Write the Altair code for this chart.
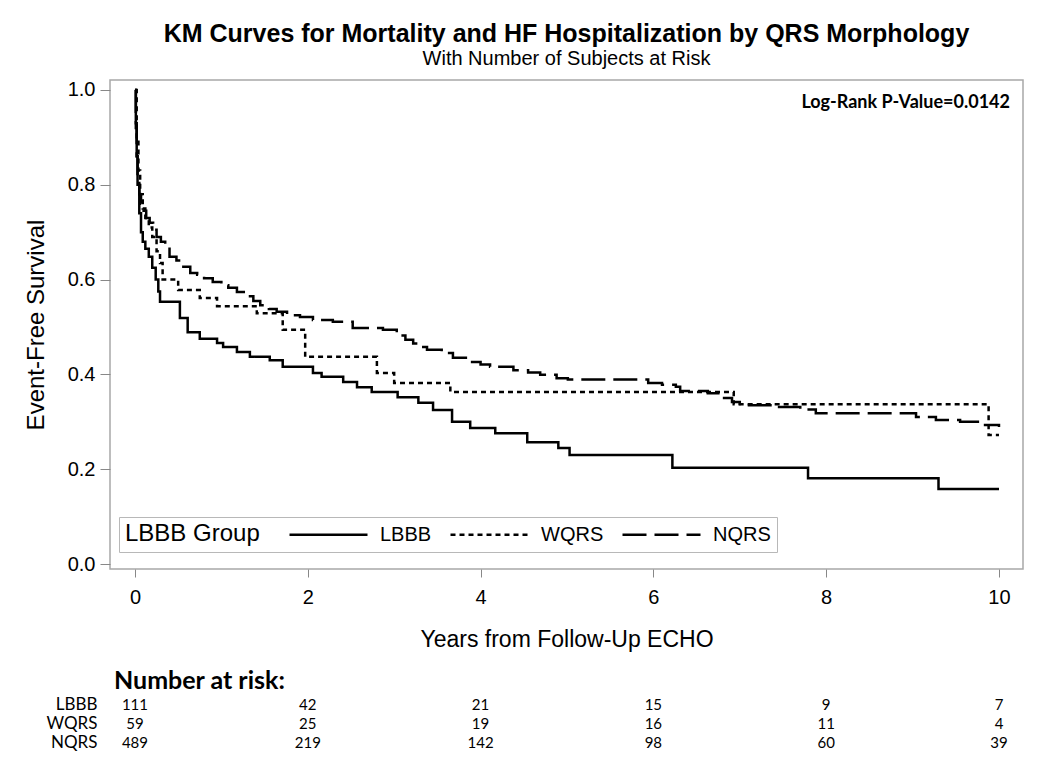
import altair as alt
import pandas as pd

groups = ["LBBB", "WQRS", "NQRS"]

# Kaplan-Meier step points (time in years, event-free survival)
lbbb_t = [0, 0.01, 0.02, 0.03, 0.05, 0.07, 0.09, 0.12, 0.16, 0.20,
          0.24, 0.27, 0.29, 0.52, 0.61, 0.75, 0.95, 1.02, 1.18, 1.33,
          1.56, 1.71, 2.06, 2.16, 2.41, 2.57, 2.74, 3.04, 3.28, 3.45,
          3.67, 3.88, 4.17, 4.54, 4.90, 5.03, 6.22, 7.79, 9.30, 10.0]
lbbb_s = [1.0, 0.93, 0.86, 0.80, 0.74, 0.70, 0.68, 0.665, 0.648, 0.625,
          0.60, 0.575, 0.553, 0.519, 0.489, 0.475, 0.466, 0.458, 0.447, 0.437,
          0.43, 0.416, 0.403, 0.395, 0.384, 0.373, 0.363, 0.352, 0.340, 0.325,
          0.300, 0.287, 0.276, 0.257, 0.245, 0.230, 0.203, 0.181, 0.158, 0.158]

wqrs_t = [0, 0.02, 0.04, 0.06, 0.09, 0.12, 0.16, 0.20, 0.25, 0.29,
          0.32, 0.50, 0.75, 0.95, 1.41, 1.71, 1.97, 2.80, 3.00, 3.65,
          6.93, 9.88, 10.0]
wqrs_s = [1.0, 0.90, 0.83, 0.78, 0.75, 0.73, 0.71, 0.69, 0.66, 0.635,
          0.60, 0.578, 0.561, 0.544, 0.529, 0.494, 0.437, 0.403, 0.382, 0.363,
          0.337, 0.272, 0.272]

nqrs_t = [0, 0.01, 0.02, 0.03, 0.05, 0.07, 0.10, 0.13, 0.17, 0.21,
          0.25, 0.30, 0.35, 0.40, 0.48, 0.56, 0.64, 0.72, 0.80, 0.90,
          1.00, 1.08, 1.18, 1.28, 1.37, 1.45, 1.55, 1.64, 1.76, 1.91,
          2.06, 2.29, 2.52, 2.87, 3.03, 3.13, 3.22, 3.30, 3.38, 3.55,
          3.68, 3.88, 4.00, 4.11, 4.38, 4.55, 4.69, 4.88, 5.01, 5.94,
          6.10, 6.26, 6.31, 6.63, 6.80, 6.91, 7.00, 7.42, 7.70, 7.88,
          9.04, 9.27, 9.55, 9.78, 10.0]
nqrs_s = [1.0, 0.92, 0.86, 0.81, 0.78, 0.76, 0.745, 0.73, 0.72, 0.705,
          0.69, 0.68, 0.669, 0.648, 0.64, 0.627, 0.614, 0.61, 0.603, 0.595,
          0.588, 0.583, 0.574, 0.565, 0.555, 0.546, 0.538, 0.532, 0.525, 0.521,
          0.515, 0.511, 0.498, 0.494, 0.482, 0.473, 0.465, 0.458, 0.452, 0.445,
          0.435, 0.426, 0.421, 0.416, 0.409, 0.404, 0.399, 0.392, 0.389, 0.382,
          0.378, 0.374, 0.365, 0.36, 0.35, 0.342, 0.335, 0.331, 0.326, 0.318,
          0.31, 0.304, 0.30, 0.293, 0.289]

risk_times = [0, 2, 4, 6, 8, 10]
risk_lbbb = [111, 42, 21, 15, 9, 7]
risk_wqrs = [59, 25, 19, 16, 11, 4]
risk_nqrs = [489, 219, 142, 98, 60, 39]

x_ticks = [0, 2, 4, 6, 8, 10]
y_ticks = [0.0, 0.2, 0.4, 0.6, 0.8, 1.0]

pvalue_text = "Log-Rank P-Value=0.0142"

curves = pd.concat([
    pd.DataFrame({"t": lbbb_t, "S": lbbb_s, "group": "LBBB"}),
    pd.DataFrame({"t": wqrs_t, "S": wqrs_s, "group": "WQRS"}),
    pd.DataFrame({"t": nqrs_t, "S": nqrs_s, "group": "NQRS"}),
], ignore_index=True)

risk = pd.concat([
    pd.DataFrame({"t": risk_times, "n": risk_lbbb, "group": "LBBB"}),
    pd.DataFrame({"t": risk_times, "n": risk_wqrs, "group": "WQRS"}),
    pd.DataFrame({"t": risk_times, "n": risk_nqrs, "group": "NQRS"}),
], ignore_index=True)

FONT = "Liberation Sans"
W = 913
H = 489
H2 = 57

xscale = alt.Scale(domain=[-0.289, 10.278], nice=False, zero=False)
yscale = alt.Scale(domain=[-0.0105, 1.021], nice=False, zero=False)

lines = alt.Chart(curves).mark_line(
    interpolate="step-after", color="black", strokeWidth=2.5, clip=True
).encode(
    x=alt.X("t:Q", scale=xscale,
            axis=alt.Axis(values=x_ticks, format="d", title="Years from Follow-Up ECHO",
                          titlePadding=21, tickSize=8, labelPadding=10)),
    y=alt.Y("S:Q", scale=yscale,
            axis=alt.Axis(values=y_ticks, format=".1f", title="Event-Free Survival",
                          titlePadding=19, tickSize=10, labelPadding=5,
                          titleFontSize=24)),
    strokeDash=alt.StrokeDash(
        "group:N",
        scale=alt.Scale(domain=groups, range=[[1, 0], [5, 4], [24, 8]]),
        legend=alt.Legend(
            title="LBBB Group", orient="none", legendX=9, legendY=437,
            direction="horizontal", titleOrient="left", titleFontSize=24,
            titleFont=FONT, titleFontWeight="normal", titleColor="black",
            titlePadding=57, titleBaseline="middle",
            labelFontSize=20, labelFont=FONT, labelColor="black",
            symbolType="M-3.9,0H3.9", symbolSize=400, symbolStrokeWidth=2.5,
            symbolStrokeColor="black", symbolFillColor="transparent",
            strokeColor="#b8b8b8", fillColor="white",
            padding=6, columnPadding=13, labelOffset=40,
        ),
    ),
)

ptext = alt.Chart(pd.DataFrame({"label": [pvalue_text]})).mark_text(
    align="right", baseline="middle", font="Lato", fontSize=18, fontWeight="bold",
    color="black"
).encode(x=alt.value(W - 13), y=alt.value(23), text="label:N")

top = alt.layer(lines, ptext).properties(
    width=W, height=H,
    view=alt.ViewBackground(stroke="#a8a8a8", strokeWidth=1.5),
    title=alt.Title(
        "KM Curves for Mortality and HF Hospitalization by QRS Morphology",
        subtitle="With Number of Subjects at Risk",
        fontSize=25, font=FONT, fontWeight="bold", color="black",
        subtitleFontSize=20, subtitleFont=FONT, subtitleColor="black",
        anchor="middle", frame="group", offset=11, subtitlePadding=2,
    ),
)

table = alt.Chart(risk).mark_text(font="Lato", fontSize=15, color="black").encode(
    x=alt.X("t:Q", scale=xscale, axis=None),
    y=alt.Y("group:N", scale=alt.Scale(domain=groups),
            axis=alt.Axis(title=None, domain=False, ticks=False, labelFontSize=17,
                          labelFont="Lato", labelPadding=13, labelColor="black")),
    text="n:Q",
).properties(
    width=W, height=H2,
    title=alt.Title("Number at risk:", anchor="start", frame="group", fontSize=25,
                    font="Lato", fontWeight="bold", color="black", offset=1, dx=4),
)

chart = alt.vconcat(top, table, spacing=17).properties(
    padding={"left": 15, "top": 13, "right": 5, "bottom": 3}
).configure_view(stroke=None).configure_axis(
    labelFontSize=20, labelFont=FONT, labelColor="black",
    titleFontSize=23, titleFont=FONT, titleFontWeight="normal", titleColor="black",
    tickColor="#888888", domain=False, grid=False,
)

chart.save("out.html", embed_options={"renderer": "svg", "actions": False})
